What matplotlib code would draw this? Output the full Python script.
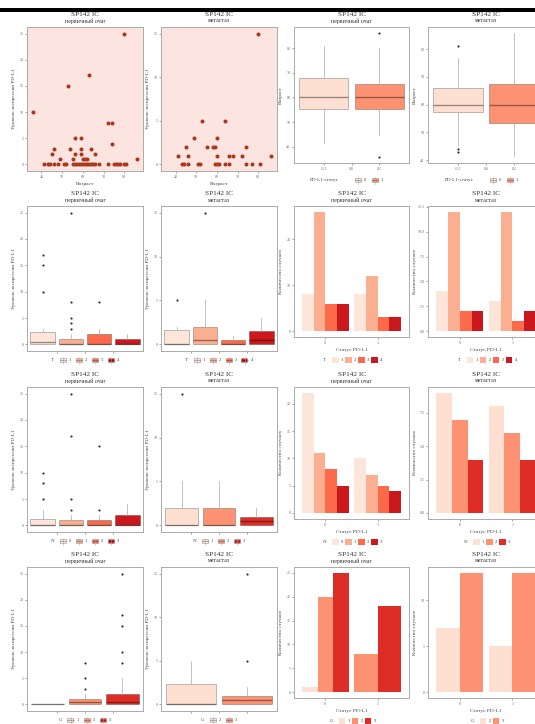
import matplotlib
matplotlib.use('Agg')
import matplotlib.pyplot as plt
from matplotlib.patches import Rectangle
from matplotlib.lines import Line2D

W, H = 535, 724

# ---------------- data ----------------
# scatter: age vs PD-L1 expression
age_prim = [36, 53, 63, 80, 72, 74, 74, 56, 59, 86,
            46, 54, 59, 64, 45, 56, 59, 66, 49, 55, 60, 61, 62,
            41, 43, 44, 46, 48, 51, 52, 55, 56, 57, 58, 59, 60, 61, 62, 63,
            64, 65, 66, 68, 72, 75, 76, 77, 78, 80, 81]
pdl1_prim = [10, 15, 17, 25, 8, 8, 4, 5, 5, 1,
             3, 3, 3, 3, 2, 2, 2, 2, 1, 1, 1, 1, 1,
             0, 0, 0, 0, 0, 0, 0, 0, 0, 0, 0, 0, 0, 0, 0, 0,
             0, 0, 0, 0, 0, 0, 0, 0, 0, 0, 0]
age_meta = [80, 53, 64, 49, 60, 45, 55, 58, 59, 74, 41, 46, 60, 66, 68, 72, 86,
            43, 44, 46, 51, 52, 59, 60, 61, 64, 66, 74, 77, 81]
pdl1_meta = [15, 5, 5, 3, 3, 2, 2, 2, 2, 2, 1, 1, 1, 1, 1, 1, 1,
             0, 0, 0, 0, 0, 0, 0, 0, 0, 0, 0, 0, 0]

# boxplots: age by PD-L1 status
status_labels = ['0', '1']
ageprim_lo = [41.5, 45]
ageprim_q1 = [55.5, 55.5]
ageprim_med = [60, 60]
ageprim_q3 = [68, 65.5]
ageprim_hi = [81, 80]
ageprim_out = [[], [36, 86]]

agemeta_lo = [45.5, 41.5]
agemeta_q1 = [57.5, 53.5]
agemeta_med = [60, 60]
agemeta_q3 = [66, 67.5]
agemeta_hi = [77, 86]
agemeta_out = [[81, 44, 43], []]

# boxplots: PD-L1 by T / N / G
t_levels = ['1', '2', '3', '4']
tprim_lo = [0, 0, 0, 0]
tprim_q1 = [0, 0, 0, 0]
tprim_med = [0.5, 0, 0, 0]
tprim_q3 = [2.3, 1, 2, 1]
tprim_hi = [3, 2, 3, 2]
tprim_out = [[10, 15, 17], [3, 4, 5, 8, 25], [8], []]

tmeta_lo = [0, 0, 0, 0]
tmeta_q1 = [0, 0, 0, 0]
tmeta_med = [0, 0.5, 0, 0.5]
tmeta_q3 = [1.6, 2, 0.5, 1.5]
tmeta_hi = [2, 5, 1, 3]
tmeta_out = [[5], [15], [], []]

n_prim_levels = ['0', '1', '2', '3']
nprim_lo = [0, 0, 0, 0]
nprim_q1 = [0, 0, 0, 0]
nprim_med = [0, 0, 0, 0]
nprim_q3 = [1.25, 1, 1, 2]
nprim_hi = [3, 2, 2, 4]
nprim_out = [[5, 8, 10], [3, 5, 17, 25], [3, 15], []]

n_meta_levels = ['1', '2', '3']
nmeta_lo = [0, 0, 0]
nmeta_q1 = [0, 0, 0]
nmeta_med = [0, 0, 0.5]
nmeta_q3 = [2, 2, 1]
nmeta_hi = [5, 5, 2]
nmeta_out = [[15], [], []]

g_prim_levels = ['1', '2', '3']
gprim_lo = [0, 0, 0]
gprim_q1 = [0, 0, 0]
gprim_med = [0, 0.5, 0.5]
gprim_q3 = [0, 1, 2]
gprim_hi = [0, 2, 5]
gprim_out = [[], [3, 5, 8], [8, 10, 15, 17, 25]]

g_meta_levels = ['2', '3']
gmeta_lo = [0, 0]
gmeta_q1 = [0, 0]
gmeta_med = [0, 0.5]
gmeta_q3 = [2.3, 1]
gmeta_hi = [5, 2]
gmeta_out = [[], [5, 15]]

# bar counts by PD-L1 status (0 = level absent)
t_prim_0 = [8, 26, 6, 6]
t_prim_1 = [8, 12, 3, 3]
t_meta_0 = [4, 12, 2, 2]
t_meta_1 = [3, 12, 1, 2]
n_prim_0 = [22, 11, 8, 5]
n_prim_1 = [10, 7, 5, 4]
n_meta_0 = [9, 7, 4]
n_meta_1 = [8, 6, 4]
g_prim_0 = [1, 20, 25]
g_prim_1 = [0, 8, 18]
g_meta_0 = [7, 13]
g_meta_1 = [5, 13]

REDS2 = ['#FEE0D2', '#FC9272']
REDS3 = ['#FEE0D2', '#FC9272', '#DE2D26']
REDS4 = ['#FEE5D9', '#FCAE91', '#FB6A4A', '#CB181D']

SERIF = ['Liberation Serif', 'DejaVu Serif']
FRAME = '#ababab'
TICKC = '#808080'
plt.rcParams['font.family'] = SERIF

fig = plt.figure(figsize=(W / 100, H / 100), dpi=100)


def fx(x):
    return x / W


def fy(y):
    return 1 - y / H


def add_ax(x0, y0, x1, y1):
    ax = fig.add_axes([fx(x0), fy(y1), (x1 - x0) / W, (y1 - y0) / H])
    for s in ax.spines.values():
        s.set_color(FRAME)
        s.set_linewidth(0.7)
    ax.tick_params(length=1.6, width=0.5, color=TICKC, labelsize=2.9,
                   labelcolor='#6e6e6e', pad=1)
    ax.set_xlabel('')
    return ax


def titles(x0, x1, top, sub):
    cx = (x0 + x1) / 2
    fig.text(fx(cx), fy(top - 12.3), 'SP142 IC', ha='center', va='center',
             fontsize=5.2, color='#333333')
    fig.text(fx(cx), fy(top - 6), sub, ha='center', va='center',
             fontsize=4.2, color='#333333')


def set_labels(ax, w, h, ylab, xlab=None):
    ax.set_ylabel(ylab, fontsize=3.8, color='#444444')
    ax.yaxis.set_label_coords(-11 / w, 0.5)
    if xlab:
        ax.set_xlabel(xlab, fontsize=3.9, color='#444444')
        ax.xaxis.set_label_coords(0.5, -11 / h)


def legend(cx, cy, title, labels, colors, box=True, step=14, tw=None):
    if tw is None:
        tw = 3.4 * len(title) if len(title) > 1 else 4
    total = tw + 5 + len(labels) * step - 4
    x = cx - total / 2
    fig.text(fx(x), fy(cy), title, ha='left', va='center', fontsize=3.6,
             color='#444444')
    x += tw + 5
    for lab, c in zip(labels, colors):
        if box:
            fig.add_artist(Line2D([fx(x + 3), fx(x + 3)], [fy(cy + 3.5), fy(cy - 3.5)],
                                  color='#b0b0b0', lw=0.4))
            fig.add_artist(Rectangle((fx(x), fy(cy + 2)), 6 / W, 4 / H,
                                     fc=c, ec='#9a9a9a', lw=0.4))
            fig.add_artist(Line2D([fx(x), fx(x + 6)], [fy(cy), fy(cy)],
                                  color=(0, 0, 0, 0.35), lw=0.5))
        else:
            fig.add_artist(Rectangle((fx(x), fy(cy + 3)), 6.5 / W, 6 / H,
                                     fc=c, ec='none'))
        fig.text(fx(x + 9), fy(cy), lab, ha='left', va='center', fontsize=3.3,
                 color='#444444')
        x += step


def box_panel(ax, lo, q1, med, q3, hi, out, colors):
    n = len(med)
    step = 0.8 / n
    pos = [-0.4 + step * (i + 0.5) for i in range(n)]
    stats = []
    for i in range(n):
        stats.append(dict(whislo=lo[i], q1=q1[i], med=med[i], q3=q3[i],
                          whishi=hi[i], fliers=out[i]))
    bp = ax.bxp(stats, positions=pos, widths=step * 0.88, patch_artist=True,
                showcaps=False, manage_ticks=False,
                boxprops=dict(edgecolor=(0, 0, 0, 0.35), linewidth=0.5),
                whiskerprops=dict(color='#aaaaaa', linewidth=0.5),
                medianprops=dict(color=(0, 0, 0, 0.4), linewidth=1.0),
                flierprops=dict(marker='o', markersize=1.6, markerfacecolor='#333333',
                                markeredgecolor='none'))
    for patch, c in zip(bp['boxes'], colors):
        patch.set_facecolor(c)
    ax.set_xlim(-0.4125, 0.4125)


def bar_panel(ax, counts0, counts1, colors):
    for xc, counts in ((1, counts0), (2, counts1)):
        idx = [i for i, v in enumerate(counts) if v > 0]
        bw = 0.9 / len(idx)
        for k, i in enumerate(idx):
            ax.bar(xc - 0.45 + bw * (k + 0.5), counts[i], width=bw,
                   color=colors[i], edgecolor='none')
    ax.set_xlim(0.4, 2.6)
    ax.set_xticks([1, 2])
    ax.set_xticklabels(status_labels)


# column extents and row geometry (pixels)
cols = [(27, 143), (161, 277), (294, 409), (428, 544)]
tops = [27, 206, 387, 567]
bot_left = [171, 351, 532, 711]
bot_right = [163, 337, 519, 698]
subs = ['первичный очаг', 'метастаз']
ylab_pd = 'Уровень экспрессии PD-L1'
ylab_cnt = 'Количество случаев'

# ---- row 1: scatter ----
for j, (ages, vals, ymax, yt) in enumerate(((age_prim, pdl1_prim, 25, [0, 5, 10, 15, 20, 25]),
                                            (age_meta, pdl1_meta, 15, [0, 5, 10, 15]))):
    x0, x1 = cols[j]
    ax = add_ax(x0, tops[0], x1, bot_left[0])
    ax.set_facecolor('#FCE5E0')
    ax.plot(ages, vals, 'o', color='#A8391E', markersize=2.9, mew=0)
    ax.set_xlim(33, 89)
    ax.set_ylim(-ymax * 0.05, ymax * 1.05)
    ax.set_xticks([40, 50, 60, 70, 80])
    ax.set_yticks(yt)
    set_labels(ax, x1 - x0, bot_left[0] - tops[0], ylab_pd, 'Возраст')
    titles(x0, x1, tops[0], subs[j])

# ---- row 1: age boxplots ----
age_sets = ((ageprim_lo, ageprim_q1, ageprim_med, ageprim_q3, ageprim_hi, ageprim_out, (33.5, 88.5)),
            (agemeta_lo, agemeta_q1, agemeta_med, agemeta_q3, agemeta_hi, agemeta_out, (39, 88)))
for j, (lo, q1, med, q3, hi, out, yl) in enumerate(age_sets):
    x0, x1 = cols[2 + j]
    ax = add_ax(x0, tops[0], x1, bot_right[0])
    box_panel(ax, lo, q1, med, q3, hi, out, REDS2)
    ax.set_ylim(*yl)
    ax.set_yticks([40, 50, 60, 70, 80])
    ax.set_xticks([-0.2, 0, 0.2])
    ax.set_xticklabels(['-0.2', '0.0', '0.2'])
    set_labels(ax, x1 - x0, bot_right[0] - tops[0], 'Возраст')
    titles(x0, x1, tops[0], subs[j])
    legend((x0 + x1) / 2 - 4, bot_right[0] + 17, 'PD-L1-статус', status_labels,
           REDS2, box=True, step=17, tw=40)

# ---- rows 2-4: PD-L1 boxplots ----
box_rows = [
    ('T', (t_levels, tprim_lo, tprim_q1, tprim_med, tprim_q3, tprim_hi, tprim_out, REDS4),
     (t_levels, tmeta_lo, tmeta_q1, tmeta_med, tmeta_q3, tmeta_hi, tmeta_out, REDS4)),
    ('N', (n_prim_levels, nprim_lo, nprim_q1, nprim_med, nprim_q3, nprim_hi, nprim_out, REDS4),
     (n_meta_levels, nmeta_lo, nmeta_q1, nmeta_med, nmeta_q3, nmeta_hi, nmeta_out, REDS3)),
    ('G', (g_prim_levels, gprim_lo, gprim_q1, gprim_med, gprim_q3, gprim_hi, gprim_out, REDS3),
     (g_meta_levels, gmeta_lo, gmeta_q1, gmeta_med, gmeta_q3, gmeta_hi, gmeta_out, REDS2)),
]
for r, (name, prim, meta) in enumerate(box_rows, start=1):
    for j, (levels, lo, q1, med, q3, hi, out, colors) in enumerate((prim, meta)):
        x0, x1 = cols[j]
        ax = add_ax(x0, tops[r], x1, bot_left[r])
        box_panel(ax, lo, q1, med, q3, hi, out, colors)
        ymax = 25 if j == 0 else 15
        ax.set_ylim(-ymax * 0.05, ymax * 1.05)
        ax.set_yticks([0, 5, 10, 15, 20, 25] if j == 0 else [0, 5, 10, 15])
        ax.set_xticks([-0.2, 0, 0.2])
        ax.set_xticklabels([])
        set_labels(ax, x1 - x0, bot_left[r] - tops[r], ylab_pd)
        titles(x0, x1, tops[r], subs[j])
        legend((x0 + x1) / 2, bot_left[r] + 9, name, levels, colors, box=True, step=16)

# ---- rows 2-4: bar charts ----
bar_rows = [
    ('T', (t_levels, t_prim_0, t_prim_1, REDS4, [0, 10, 20], ['0', '10', '20'])),
    ('T', (t_levels, t_meta_0, t_meta_1, REDS4, [0, 2.5, 5, 7.5, 10, 12.5],
           ['0.0', '2.5', '5.0', '7.5', '10.0', '12.5'])),
    ('N', (n_prim_levels, n_prim_0, n_prim_1, REDS4, [0, 5, 10, 15, 20], None)),
    ('N', (n_meta_levels, n_meta_0, n_meta_1, REDS3, [0, 2.5, 5, 7.5],
           ['0.0', '2.5', '5.0', '7.5'])),
    ('G', (g_prim_levels, g_prim_0, g_prim_1, REDS3, [0, 5, 10, 15, 20, 25], None)),
    ('G', (g_meta_levels, g_meta_0, g_meta_1, REDS2, [0, 5, 10], None)),
]
for k, (name, (levels, c0, c1, colors, yt, ytl)) in enumerate(bar_rows):
    r = 1 + k // 2
    j = k % 2
    x0, x1 = cols[2 + j]
    ax = add_ax(x0, tops[r], x1, bot_right[r])
    bar_panel(ax, c0, c1, colors)
    ymax = max(max(c0), max(c1))
    ax.set_ylim(-ymax * 0.05, ymax * 1.05)
    ax.set_yticks(yt)
    if ytl:
        ax.set_yticklabels(ytl)
    set_labels(ax, x1 - x0, bot_right[r] - tops[r], ylab_cnt, 'Статус PD-L1')
    titles(x0, x1, tops[r], subs[j])
    legend((x0 + x1) / 2, bot_right[r] + 23, name, levels, colors, box=False, step=13)

# black rule across the top
fig.add_artist(Rectangle((0, fy(11.5)), 1, 3 / H, fc='black', ec='none'))

fig.savefig('out.png', dpi=100)
